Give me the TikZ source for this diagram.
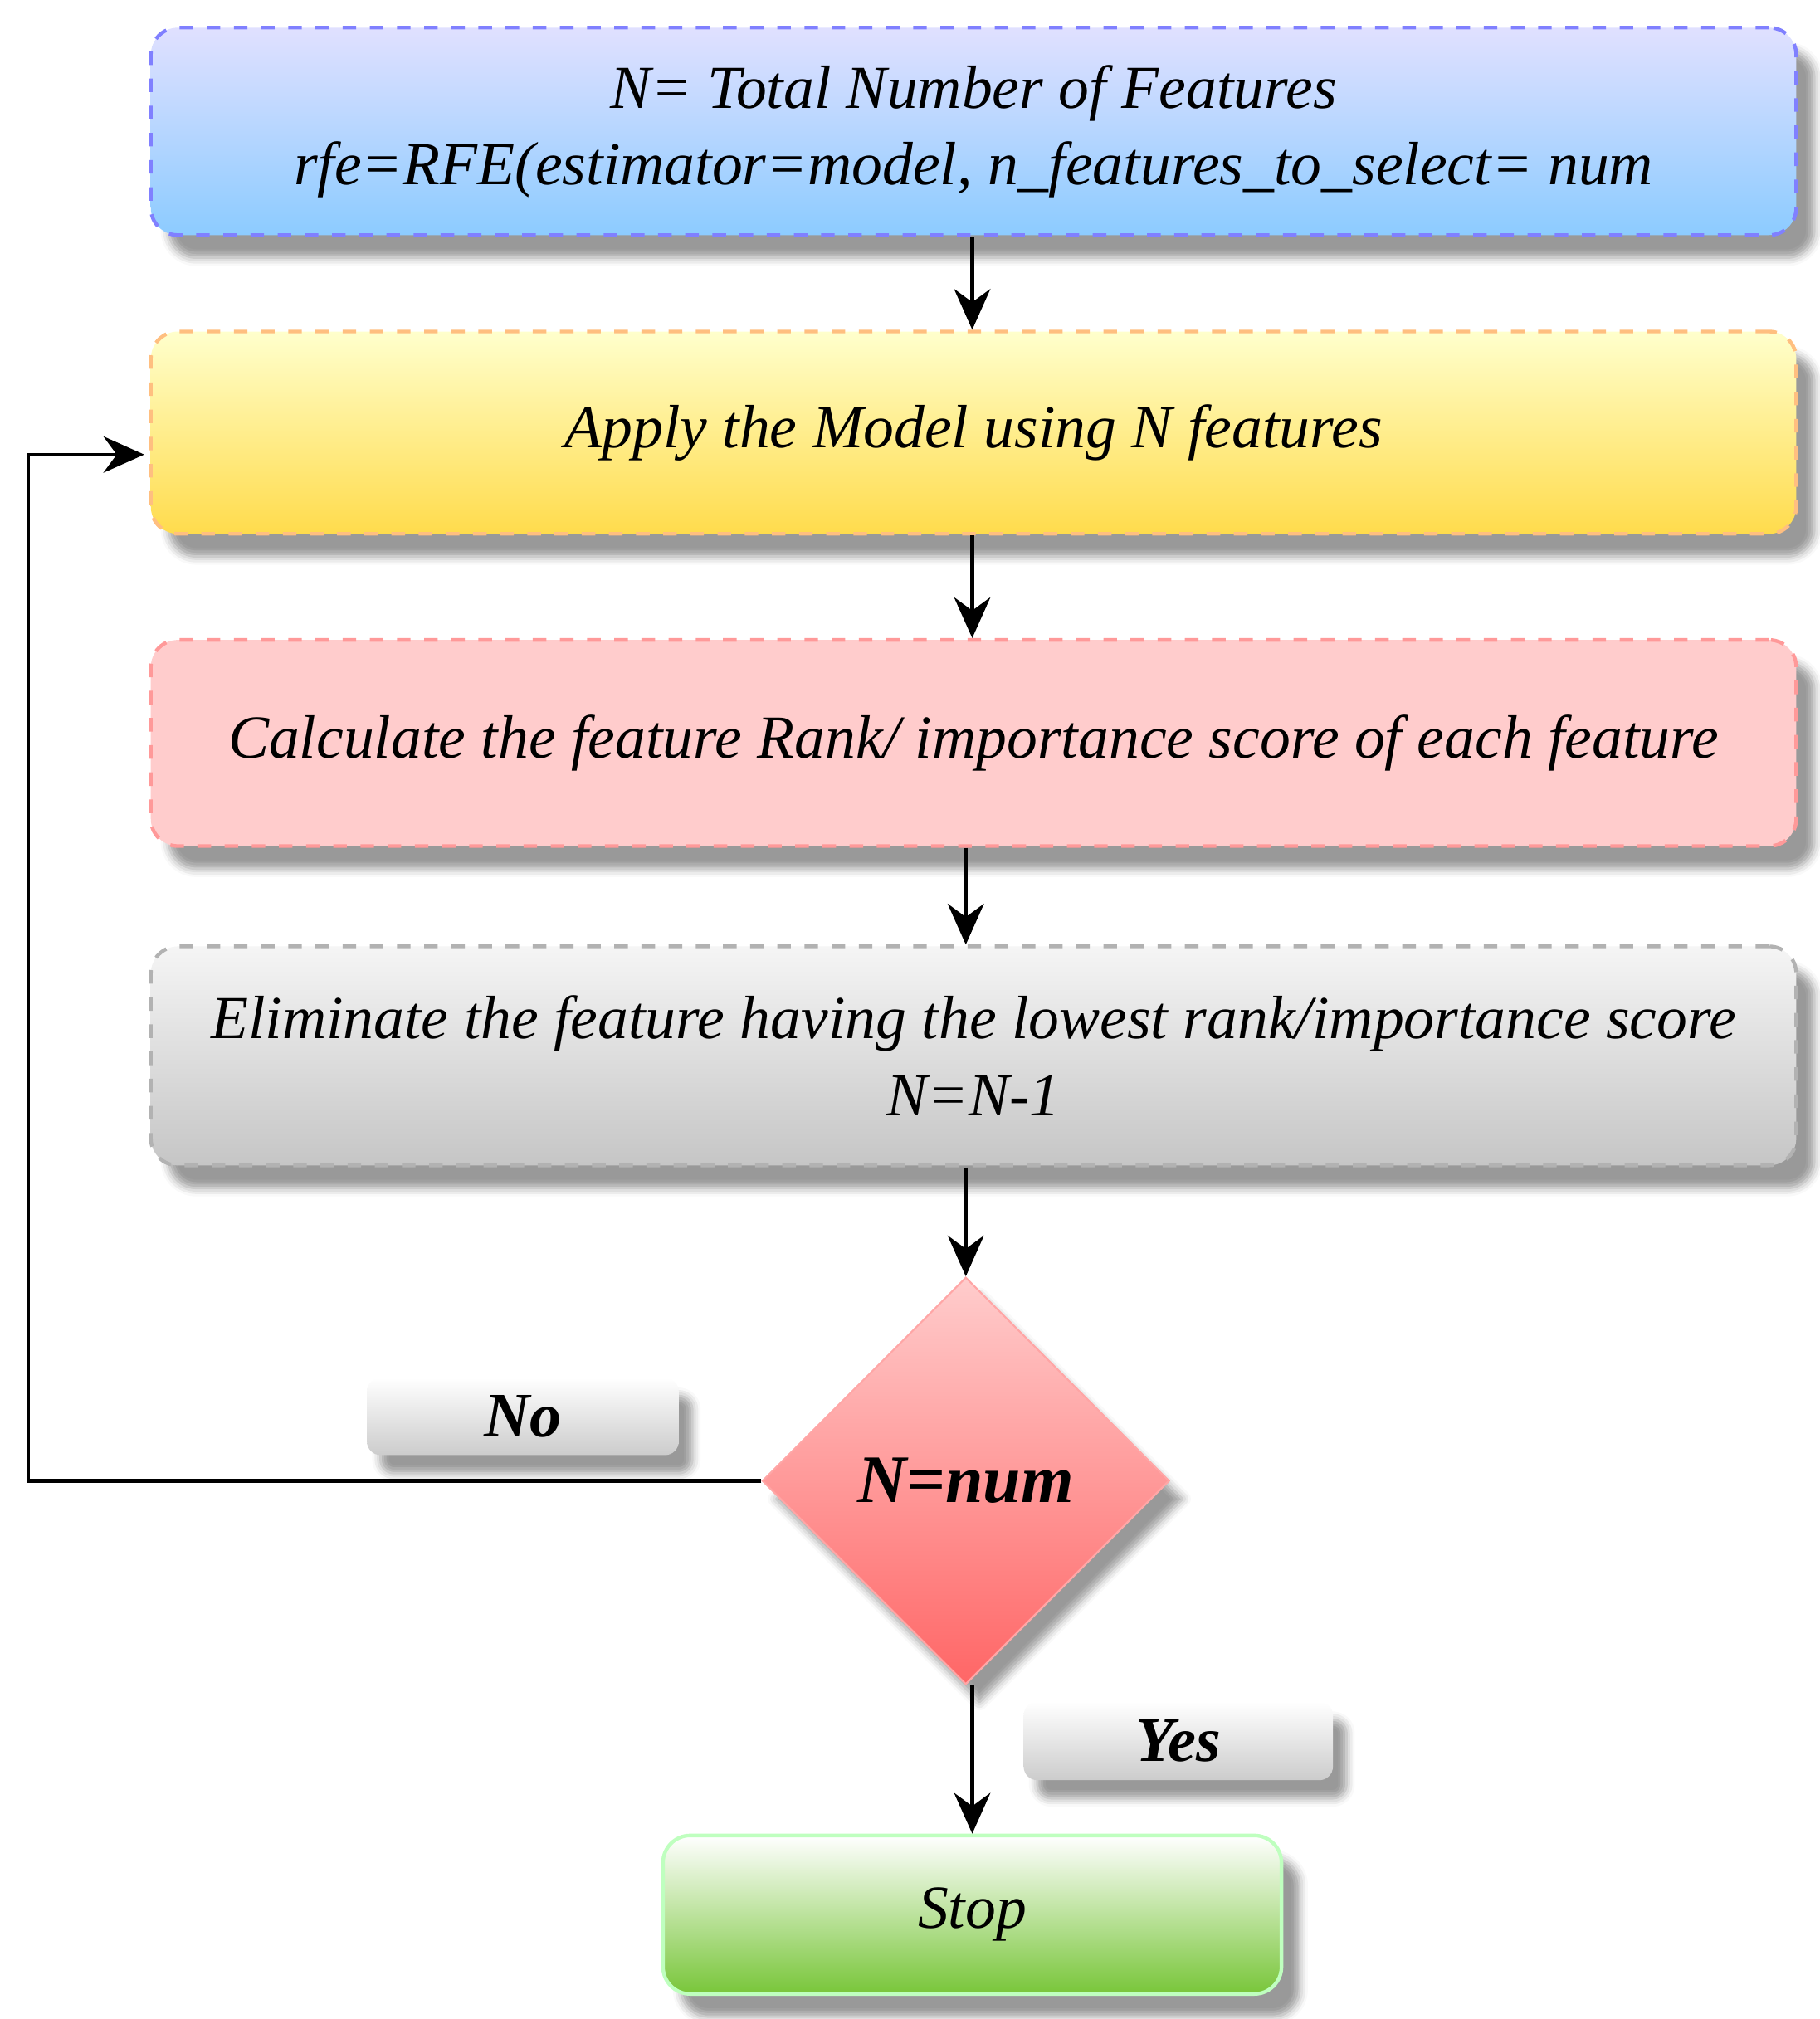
\documentclass[tikz,border=0pt]{standalone}
\usepackage{fontspec}
\setmainfont{Liberation Serif}
\usetikzlibrary{shapes.geometric,shadows,shadows.blur,arrows.meta}
\begin{document}
\begin{tikzpicture}[x=0.01cm,y=-0.01cm,
  box/.style={draw, dashed, rounded corners=6pt, thick, blur shadow={shadow xshift=4pt,shadow yshift=-5pt}, align=center, font=\fontsize{13.5}{17}\selectfont\itshape, inner sep=0pt},
  lbl/.style={rounded corners=3pt, top color=white, bottom color=gray!40, blur shadow={shadow xshift=3pt,shadow yshift=-4pt}, font=\fontsize{14}{18}\selectfont\itshape\bfseries, inner sep=0pt},
  arr/.style={-{Stealth[length=9pt,width=8pt]}, thick}]
\useasboundingbox (0,0) rectangle (1413,1568);
\node[box, draw=blue!50, top color=blue!12, bottom color=blue!45!cyan!45, minimum width=12.77cm, minimum height=1.61cm] (b1) at (756,102) {N= Total Number of Features\\rfe=RFE(estimator=model, n\_features\_to\_select= num};
\node[box, draw=orange!50, top color=yellow!20, bottom color=orange!40!yellow!70, minimum width=12.77cm, minimum height=1.57cm] (b2) at (756,336) {Apply the Model using N features};
\node[box, draw=red!40, fill=red!20, minimum width=12.77cm, minimum height=1.60cm] (b3) at (756,577) {Calculate the feature Rank/ importance score of each feature};
\node[box, draw=gray!60, top color=gray!8, bottom color=gray!45, minimum width=12.77cm, minimum height=1.70cm] (b4) at (756,820) {Eliminate the feature having the lowest rank/importance score\\N=N-1};
\node[diamond, draw=red!35, top color=red!20, bottom color=red!60, minimum width=3.16cm, minimum height=3.16cm, inner sep=0pt, blur shadow={shadow xshift=3pt,shadow yshift=-4pt}, font=\fontsize{15}{18}\selectfont\itshape\bfseries] (d) at (750,1150) {N=num};
\node[box, solid, draw=green!25, top color=white, bottom color=green!40!lime!55!gray, minimum width=4.8cm, minimum height=1.23cm] (stop) at (755,1487) {Stop};
\node[lbl, minimum width=2.42cm, minimum height=0.6cm] (no) at (406,1100) {No};
\node[lbl, minimum width=2.4cm, minimum height=0.61cm] (yes) at (915,1352) {Yes};
\coordinate (c1) at (22,1150);
\coordinate (c2) at (22,353);
\coordinate (e2) at (112,353);
\draw[arr] (b1.south -| 755,0) -- (b2.north -| 755,0);
\draw[arr] (b2.south -| 755,0) -- (b3.north -| 755,0);
\draw[arr] (b3.south -| 750,0) -- (b4.north -| 750,0);
\draw[arr] (b4.south -| 750,0) -- (d.north);
\draw[arr] (d.south -| 755,0) -- (stop.north -| 755,0);
\draw[arr] (d.west) -- (c1) -- (c2) -- (e2);
\end{tikzpicture}
\end{document}
